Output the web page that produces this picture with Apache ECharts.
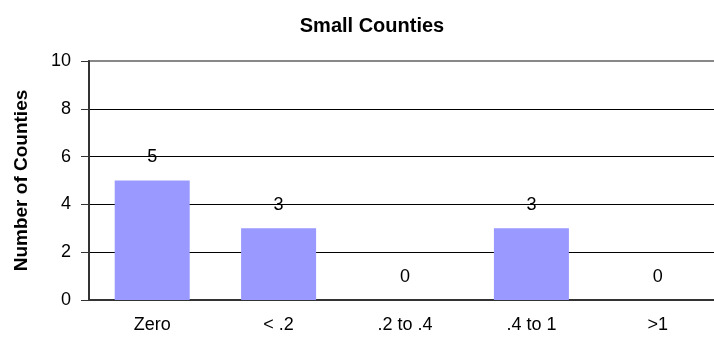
<!DOCTYPE html>
<html>
<head>
<meta charset="utf-8">
<script src="https://cdn.jsdelivr.net/npm/echarts@6/dist/echarts.min.js"></script>
<style>
  html, body { margin: 0; padding: 0; background: #fff; overflow: hidden; }
  /* canvas is a few pixels wider than the window so the plot runs off the right edge */
  #chart { width: 721px; height: 337px; }
</style>
</head>
<body>
<div id="chart"></div>
<script>
// Counties per rate bucket
const categories = ['Zero', '< .2', '.2 to .4', '.4 to 1', '>1'];
const counts = [5, 3, 0, 3, 0];
const yTicks = { min: 0, max: 10, interval: 2 };

const FONT = 'Liberation Sans';

const chart = echarts.init(document.getElementById('chart'));
chart.setOption({
  animation: false,
  title: {
    text: 'Small Counties',
    left: 367,
    textAlign: 'center',
    top: 11,
    textStyle: { fontFamily: FONT, fontSize: 20, fontWeight: 'bold', color: '#000' }
  },
  // gray frame round the plot area; left and bottom are covered by the axes
  grid: {
    left: 89, right: 0, top: 61, height: 239, containLabel: false,
    show: true, borderColor: '#888', borderWidth: 2
  },
  xAxis: {
    type: 'category',
    data: categories,
    axisLine: { lineStyle: { color: '#333', width: 2 } },
    axisTick: { show: false },
    axisLabel: { fontFamily: FONT, fontSize: 18, color: '#000', margin: 16 }
  },
  yAxis: {
    type: 'value',
    min: yTicks.min,
    max: yTicks.max,
    interval: yTicks.interval,
    name: 'Number of Counties',
    nameLocation: 'middle',
    nameGap: 58,
    nameTextStyle: { fontFamily: FONT, fontSize: 19, fontWeight: 'bold', color: '#000' },
    axisLine: { show: true, lineStyle: { color: '#333', width: 2 } },
    axisTick: { show: true, length: 8, lineStyle: { color: '#333' } },
    axisLabel: { fontFamily: FONT, fontSize: 18, color: '#000', margin: 18 },
    splitLine: {
      lineStyle: { color: ['#000', '#000', '#000', '#000', '#000', '#888'], width: 1 }
    }
  },
  series: [{
    type: 'bar',
    data: counts,
    barWidth: 75,
    itemStyle: { color: '#9999FF' },
    label: {
      show: true,
      position: 'top',
      distance: 14,
      fontFamily: FONT,
      fontSize: 18,
      color: '#000'
    }
  }]
});
</script>
</body>
</html>
